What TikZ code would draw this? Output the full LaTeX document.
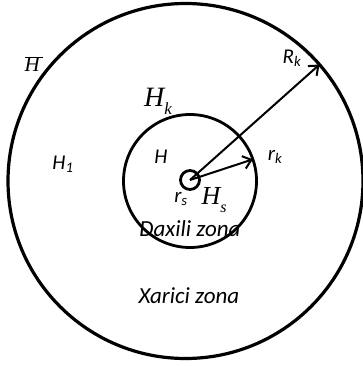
\documentclass[tikz,border=0pt]{standalone}
\usepackage{fontspec}
\setmainfont{Carlito}
\newfontfamily\serifit{Liberation Serif}[ItalicFont=* Italic]
\usetikzlibrary{arrows.meta}

\begin{document}
\begin{tikzpicture}[x=1pt, y=-1pt,
    zone/.style={circle, draw=black, line width=#1, outer sep=0pt, inner sep=0pt},
    radius/.style={-{Straight Barb[length=8pt, width=13pt, line width=2pt]}, line width=2pt},
    lbl/.style={inner sep=0pt, font=\fontsize{21}{23}\selectfont\itshape},
    big/.style={inner sep=0pt, font=\fontsize{#1}{#1}\selectfont\serifit\itshape},
]
\useasboundingbox (0,0) rectangle (362,366);

% ========== ZONES ==========
\node[zone=3.2pt, minimum size=355pt] (outer) at (185.5,181) {};
\node[zone=2.8pt, minimum size=133pt] (inner) at (190,181) {};
\node[zone=2.8pt, minimum size=19pt] (well) at (190,180) {};

% ========== RADII ==========
\draw[radius] (well.center) -- (outer.41.5);
\draw[radius] (well.center) -- (inner.19.5);

% ========== LABELS ==========
\node[big=21] (hbar) at (34,64) {$\overline{\hbox{\serifit\itshape H\,}}$};
\node[big=28] (hk) at (158,101) {H\raisebox{-8pt}{\fontsize{17}{17}\selectfont k}};
\node[big=26] (hs) at (214,200) {H\raisebox{-8pt}{\fontsize{16}{16}\selectfont s}};
\node[lbl] (h1) at (63,164) {H\textsubscript{1}};
\node[lbl] (h) at (161,157) {H};
\node[lbl] (rk) at (275,157) {r\textsubscript{k}};
\node[lbl] (Rk) at (292,58) {R\textsubscript{k}};
\node[lbl] (rs) at (181,199) {r\textsubscript{s}};
\node[lbl, font=\fontsize{23}{25}\selectfont\itshape] (inzone) at (190,229) {Daxili zona};
\node[lbl, font=\fontsize{23}{25}\selectfont\itshape] (outzone) at (189,296) {Xarici zona};

\end{tikzpicture}
\end{document}
